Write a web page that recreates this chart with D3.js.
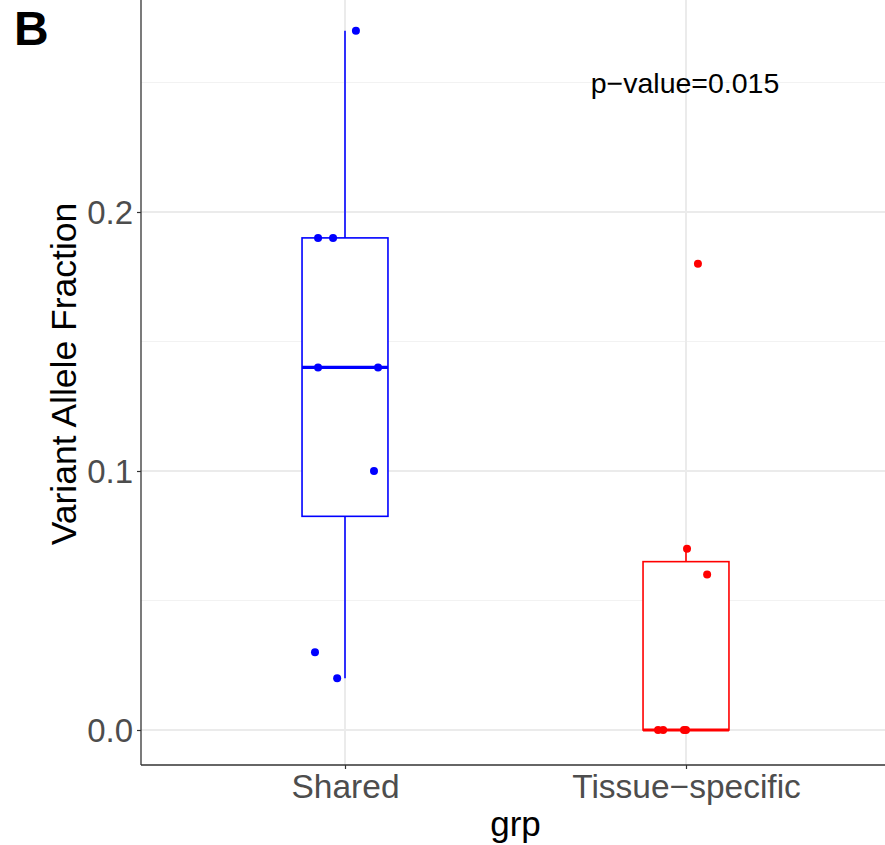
<!DOCTYPE html>
<html>
<head>
<meta charset="utf-8">
<script src="https://cdn.jsdelivr.net/npm/d3@7"></script>
<style>
  body { margin: 0; background: #fff; }
  text { font-family: "Liberation Sans", Arial, Helvetica, sans-serif; }
</style>
</head>
<body>
<div id="chart"></div>
<script>
var width = 885, height = 845;
var margin = { top: 0, right: 0, bottom: 80, left: 141 };

var groups = ['Shared', 'Tissue\u2212specific'];
var colors = ['#0000ff', '#ff0000'];
// values, with the horizontal jitter (in category units)
var sharedVals = [0.27, 0.19, 0.19, 0.14, 0.14, 0.10, 0.03, 0.02];
var sharedJitter = [0.032, -0.079, -0.035, -0.079, 0.097, 0.085, -0.088, -0.023];
var tissueVals = [0.18, 0.07, 0.06, 0, 0, 0, 0];
var tissueJitter = [0.035, 0.003, 0.062, -0.082, -0.067, -0.006, 0.0];
var yTicks = [0.0, 0.1, 0.2];
var yMinor = [0.05, 0.15, 0.25];
var pLabel = 'p\u2212value=0.015';

var svg = d3.select('#chart').append('svg')
  .attr('width', width)
  .attr('height', height);

var x = d3.scaleLinear()
  .domain([0.4, 2.6])
  .range([140.4, 890.6]);

var y = d3.scaleLinear()
  .domain([0, 0.1])
  .range([730, 471]);

var panelBottom = 765;

// grid
svg.append('g').selectAll('line.minor')
  .data(yMinor).enter().append('line')
  .attr('x1', margin.left).attr('x2', width)
  .attr('y1', function (d) { return y(d); }).attr('y2', function (d) { return y(d); })
  .attr('stroke', '#f2f2f2').attr('stroke-width', 1);

svg.append('g').selectAll('line.major')
  .data(yTicks).enter().append('line')
  .attr('x1', margin.left).attr('x2', width)
  .attr('y1', function (d) { return y(d); }).attr('y2', function (d) { return y(d); })
  .attr('stroke', '#ebebeb').attr('stroke-width', 2);

svg.append('g').selectAll('line.vgrid')
  .data([1, 2]).enter().append('line')
  .attr('x1', function (d) { return x(d); }).attr('x2', function (d) { return x(d); })
  .attr('y1', 0).attr('y2', panelBottom)
  .attr('stroke', '#ebebeb').attr('stroke-width', 2);

// boxplots
var series = [
  { vals: sharedVals, jit: sharedJitter },
  { vals: tissueVals, jit: tissueJitter }
];

var boxW = 0.252;
series.forEach(function (s, i) {
  var pos = i + 1;
  var col = colors[i];
  var sorted = s.vals.slice().sort(d3.ascending);
  var q1 = d3.quantileSorted(sorted, 0.25);
  var med = d3.quantileSorted(sorted, 0.5);
  var q3 = d3.quantileSorted(sorted, 0.75);
  var iqr = q3 - q1;
  var lo = d3.min(sorted.filter(function (v) { return v >= q1 - 1.5 * iqr; }));
  var hi = d3.max(sorted.filter(function (v) { return v <= q3 + 1.5 * iqr; }));
  var g = svg.append('g');
  g.append('line')
    .attr('x1', x(pos)).attr('x2', x(pos))
    .attr('y1', y(hi)).attr('y2', y(q3))
    .attr('stroke', col).attr('stroke-width', 1.6);
  g.append('line')
    .attr('x1', x(pos)).attr('x2', x(pos))
    .attr('y1', y(q1)).attr('y2', y(lo))
    .attr('stroke', col).attr('stroke-width', 1.6);
  g.append('rect')
    .attr('x', x(pos - boxW / 2)).attr('width', x(pos + boxW / 2) - x(pos - boxW / 2))
    .attr('y', y(q3)).attr('height', y(q1) - y(q3))
    .attr('fill', 'white').attr('stroke', col).attr('stroke-width', 1.6);
  g.append('line')
    .attr('x1', x(pos - boxW / 2)).attr('x2', x(pos + boxW / 2))
    .attr('y1', y(med)).attr('y2', y(med))
    .attr('stroke', col).attr('stroke-width', 3.2);

  g.selectAll('circle')
    .data(s.vals).enter().append('circle')
    .attr('cx', function (d, j) { return x(pos + s.jit[j]); })
    .attr('cy', function (d) { return y(d); })
    .attr('r', 4)
    .attr('fill', col);
});

// axes
var yAxis = d3.axisLeft(y).tickValues(yTicks).tickSize(4).tickFormat(d3.format('.1f'));
var yg = svg.append('g')
  .attr('transform', 'translate(' + margin.left + ',0)')
  .call(yAxis);
yg.select('.domain').remove();
yg.selectAll('.tick line').attr('stroke', '#333').attr('stroke-width', 1.2);
yg.selectAll('.tick text').attr('fill', '#4d4d4d').style('font-size', '33px').attr('x', -8).attr('dy', '0.36em');

svg.append('line')
  .attr('x1', margin.left).attr('x2', margin.left)
  .attr('y1', 0).attr('y2', panelBottom)
  .attr('stroke', '#333').attr('stroke-width', 1.3);

var xAxis = d3.axisBottom(x).tickValues([1, 2]).tickSize(4)
  .tickFormat(function (d) { return groups[d - 1]; });
var xg = svg.append('g')
  .attr('transform', 'translate(0,' + panelBottom + ')')
  .call(xAxis);
xg.select('.domain').remove();
xg.selectAll('.tick line').attr('stroke', '#333').attr('stroke-width', 1.2);
xg.selectAll('.tick text').attr('fill', '#4d4d4d').style('font-size', '33.5px')
  .attr('y', 33).attr('dy', 0);

svg.append('line')
  .attr('x1', margin.left).attr('x2', width)
  .attr('y1', panelBottom).attr('y2', panelBottom)
  .attr('stroke', '#333').attr('stroke-width', 1.3);

// titles
svg.append('text')
  .attr('x', (x(0.4) + x(2.6)) / 2).attr('y', 836)
  .attr('text-anchor', 'middle')
  .style('font-size', '35px')
  .text('grp');

svg.append('text')
  .attr('transform', 'translate(76,374) rotate(-90)')
  .attr('text-anchor', 'middle')
  .style('font-size', '35.5px')
  .text('Variant Allele Fraction');

svg.append('text')
  .attr('x', 685).attr('y', 93)
  .attr('text-anchor', 'middle')
  .style('font-size', '28.5px')
  .text(pLabel);

svg.append('text')
  .attr('x', 14).attr('y', 45)
  .style('font-size', '48px')
  .style('font-weight', 'bold')
  .text('B');
</script>
</body>
</html>
